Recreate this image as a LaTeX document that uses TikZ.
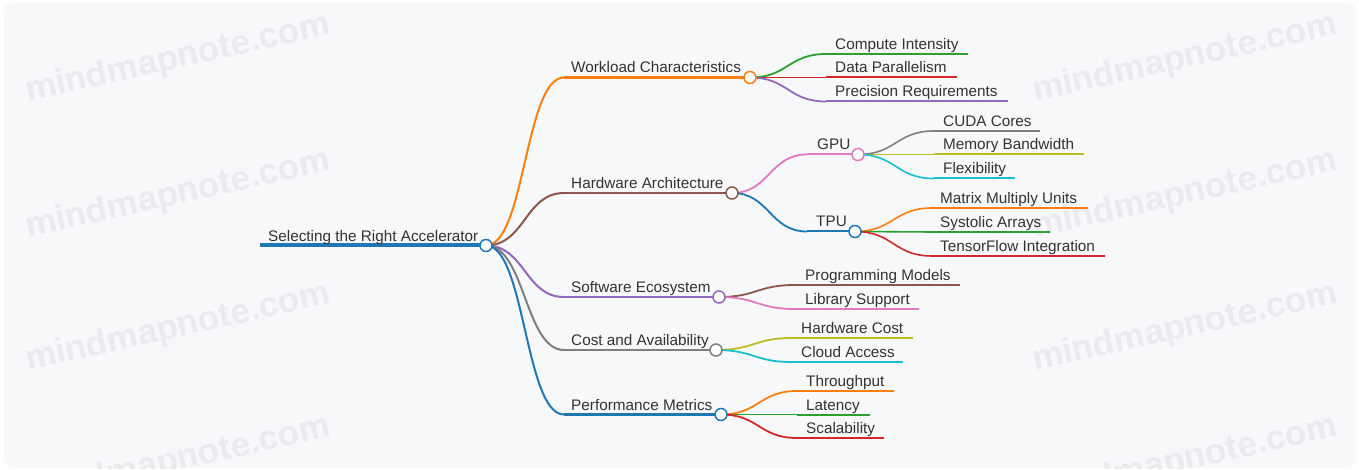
\documentclass[tikz,border=0pt]{standalone}
\usepackage{fontspec}
\setmainfont{Liberation Sans}
\usetikzlibrary{calc}
\definecolor{cblue}{HTML}{1F77B4}
\definecolor{corange}{HTML}{FF7F0E}
\definecolor{cgreen}{HTML}{2CA02C}
\definecolor{cred}{HTML}{D62728}
\definecolor{cpurple}{HTML}{9467BD}
\definecolor{cbrown}{HTML}{8C564B}
\definecolor{cpink}{HTML}{E377C2}
\definecolor{cgray}{HTML}{7F7F7F}
\definecolor{colive}{HTML}{BCBD22}
\definecolor{ccyan}{HTML}{17BECF}
\definecolor{txt}{HTML}{333333}
\definecolor{bgc}{HTML}{F7F8FA}
\definecolor{wmc}{HTML}{EAEBEE}
\pgfdeclarelayer{bglayer}
\pgfdeclarelayer{linklayer}
\pgfsetlayers{bglayer,linklayer,main}
\newcommand{\mmlink}[4]{\draw[draw=#1, line width=#2] let \p1=(#3), \p2=(#4) in (\p1) .. controls ({0.5*\x1+0.5*\x2},\y1) and ({0.5*\x1+0.5*\x2},\y2) .. (\p2);}
\begin{document}
\begin{tikzpicture}[x=1pt,y=-1pt,
  lbl/.style={anchor=base west, inner sep=0pt, text=txt, font=\fontsize{15.3}{18}\selectfont},
  hub/.style={circle, draw=#1, fill=white, line width=1.5pt, minimum size=12pt, inner sep=0pt},
  branch/.style={draw=#1, line width=2pt},
  trunk/.style={draw=#1, line width=2.3pt},
  wm/.style={text=wmc, rotate=12.5, inner sep=0pt, font=\fontsize{35}{40}\selectfont\bfseries}]
\useasboundingbox (0,0) rectangle (1359,470);
% background and watermarks
\begin{pgfonlayer}{bglayer}
\fill[white] (0,0) rectangle (1359,470);
\fill[bgc, rounded corners=9pt] (4,3) rectangle (1356,468);
\begin{scope}
\clip[rounded corners=9pt] (4,3) rectangle (1356,468);
\foreach \yy [count=\i] in {59,195,328,461}{
  \node[wm] (wmL\i) at (178,\yy) {mindmapnote.com};
  \node[wm] (wmR\i) at (1185,\yy) {mindmapnote.com};
}
\end{scope}
\end{pgfonlayer}

% ---------- root ----------
\coordinate (R-s) at (260,245.5);
\node[hub=cblue] (R) at (486,245.5) {};
\node[lbl] (R-t) at (268,241.5) {Selecting the Right Accelerator};

% ---------- level 1 ----------
\coordinate (W-s) at (564,77.5);  \node[hub=corange] (W) at (750,77.5) {};
\node[lbl] (W-t) at (571,73) {Workload Characteristics};
\coordinate (H-s) at (564,193);   \node[hub=cbrown] (H) at (732,193) {};
\node[lbl] (H-t) at (571,188.5) {Hardware Architecture};
\coordinate (S-s) at (564,297);   \node[hub=cpurple] (S) at (719,297) {};
\node[lbl] (S-t) at (571,292.5) {Software Ecosystem};
\coordinate (C-s) at (564,350);   \node[hub=cgray] (C) at (716,350) {};
\node[lbl] (C-t) at (571,345.5) {Cost and Availability};
\coordinate (P-s) at (564,414.5); \node[hub=cblue] (P) at (721,414.5) {};
\node[lbl] (P-t) at (571,410) {Performance Metrics};

% ---------- level 2 (hardware) ----------
\coordinate (G-s) at (807,154.5); \node[hub=cpink] (G) at (858,154.5) {};
\node[lbl] (G-t) at (817,150) {GPU};
\coordinate (T-s) at (807,231.5); \node[hub=cblue] (T) at (855,231.5) {};
\node[lbl] (T-t) at (816,227) {TPU};

% ---------- leaves ----------
\coordinate (W1-s) at (826,54);    \coordinate (W1-e) at (968,54);
\node[lbl] (W1-t) at (835,49.5) {Compute Intensity};
\coordinate (W2-s) at (826,77.5);  \coordinate (W2-e) at (957,77.5);
\node[lbl] (W2-t) at (835,73) {Data Parallelism};
\coordinate (W3-s) at (826,101.5); \coordinate (W3-e) at (1008,101.5);
\node[lbl] (W3-t) at (835,97) {Precision Requirements};

\coordinate (G1-s) at (934,131);   \coordinate (G1-e) at (1040,131);
\node[lbl] (G1-t) at (943,126.5) {CUDA Cores};
\coordinate (G2-s) at (934,154.5); \coordinate (G2-e) at (1084,154.5);
\node[lbl] (G2-t) at (943,150) {Memory Bandwidth};
\coordinate (G3-s) at (934,178.5); \coordinate (G3-e) at (1015,178.5);
\node[lbl] (G3-t) at (943,174) {Flexibility};

\coordinate (T1-s) at (932,208);   \coordinate (T1-e) at (1088,208);
\node[lbl] (T1-t) at (940,203.5) {Matrix Multiply Units};
\coordinate (T2-s) at (932,232);   \coordinate (T2-e) at (1050,232);
\node[lbl] (T2-t) at (940,227.5) {Systolic Arrays};
\coordinate (T3-s) at (932,256);   \coordinate (T3-e) at (1105,256);
\node[lbl] (T3-t) at (940,251.5) {TensorFlow Integration};

\coordinate (S1-s) at (795,285);   \coordinate (S1-e) at (960,285);
\node[lbl] (S1-t) at (805,280.5) {Programming Models};
\coordinate (S2-s) at (795,309);   \coordinate (S2-e) at (919,309);
\node[lbl] (S2-t) at (805,304.5) {Library Support};

\coordinate (C1-s) at (792,338);   \coordinate (C1-e) at (913,338);
\node[lbl] (C1-t) at (801,333.5) {Hardware Cost};
\coordinate (C2-s) at (792,362);   \coordinate (C2-e) at (903,362);
\node[lbl] (C2-t) at (801,357.5) {Cloud Access};

\coordinate (P1-s) at (797,391);   \coordinate (P1-e) at (894,391);
\node[lbl] (P1-t) at (806,386.5) {Throughput};
\coordinate (P2-s) at (797,414.5); \coordinate (P2-e) at (870,414.5);
\node[lbl] (P2-t) at (806,410) {Latency};
\coordinate (P3-s) at (797,438);   \coordinate (P3-e) at (884,438);
\node[lbl] (P3-t) at (806,433.5) {Scalability};

% ---------- connectors ----------
\begin{pgfonlayer}{linklayer}
\draw[cblue, line width=4pt] (R-s) -- (R.center);
\mmlink{corange}{2pt}{R}{W-s} \draw[trunk=corange] (W-s) -- (W.center);
\mmlink{cbrown}{2pt}{R}{H-s}  \draw[trunk=cbrown] (H-s) -- (H.center);
\mmlink{cpurple}{2pt}{R}{S-s} \draw[trunk=cpurple] (S-s) -- (S.center);
\mmlink{cgray}{2pt}{R}{C-s}   \draw[trunk=cgray] (C-s) -- (C.center);
\mmlink{cblue}{2pt}{R}{P-s}   \draw[trunk=cblue] (P-s) -- (P.center);

\mmlink{cpink}{1.8pt}{H}{G-s} \draw[branch=cpink] (G-s) -- (G.center);
\mmlink{cblue}{1.8pt}{H}{T-s} \draw[branch=cblue] (T-s) -- (T.center);

\mmlink{cgreen}{1.8pt}{W}{W1-s}  \draw[branch=cgreen] (W1-s) -- (W1-e);
\mmlink{cred}{1.8pt}{W}{W2-s}    \draw[branch=cred] (W2-s) -- (W2-e);
\mmlink{cpurple}{1.8pt}{W}{W3-s} \draw[branch=cpurple] (W3-s) -- (W3-e);

\mmlink{cgray}{1.6pt}{G}{G1-s}  \draw[branch=cgray] (G1-s) -- (G1-e);
\mmlink{colive}{1.6pt}{G}{G2-s} \draw[branch=colive] (G2-s) -- (G2-e);
\mmlink{ccyan}{1.6pt}{G}{G3-s}  \draw[branch=ccyan] (G3-s) -- (G3-e);

\mmlink{corange}{1.6pt}{T}{T1-s} \draw[branch=corange] (T1-s) -- (T1-e);
\mmlink{cgreen}{1.6pt}{T}{T2-s}  \draw[branch=cgreen] (T2-s) -- (T2-e);
\mmlink{cred}{1.6pt}{T}{T3-s}    \draw[branch=cred] (T3-s) -- (T3-e);

\mmlink{cbrown}{1.8pt}{S}{S1-s} \draw[branch=cbrown] (S1-s) -- (S1-e);
\mmlink{cpink}{1.8pt}{S}{S2-s}  \draw[branch=cpink] (S2-s) -- (S2-e);

\mmlink{colive}{1.8pt}{C}{C1-s} \draw[branch=colive] (C1-s) -- (C1-e);
\mmlink{ccyan}{1.8pt}{C}{C2-s}  \draw[branch=ccyan] (C2-s) -- (C2-e);

\mmlink{corange}{1.8pt}{P}{P1-s} \draw[branch=corange] (P1-s) -- (P1-e);
\mmlink{cgreen}{1.8pt}{P}{P2-s}  \draw[branch=cgreen] (P2-s) -- (P2-e);
\mmlink{cred}{1.8pt}{P}{P3-s}    \draw[branch=cred] (P3-s) -- (P3-e);
\end{pgfonlayer}
\end{tikzpicture}
\end{document}
